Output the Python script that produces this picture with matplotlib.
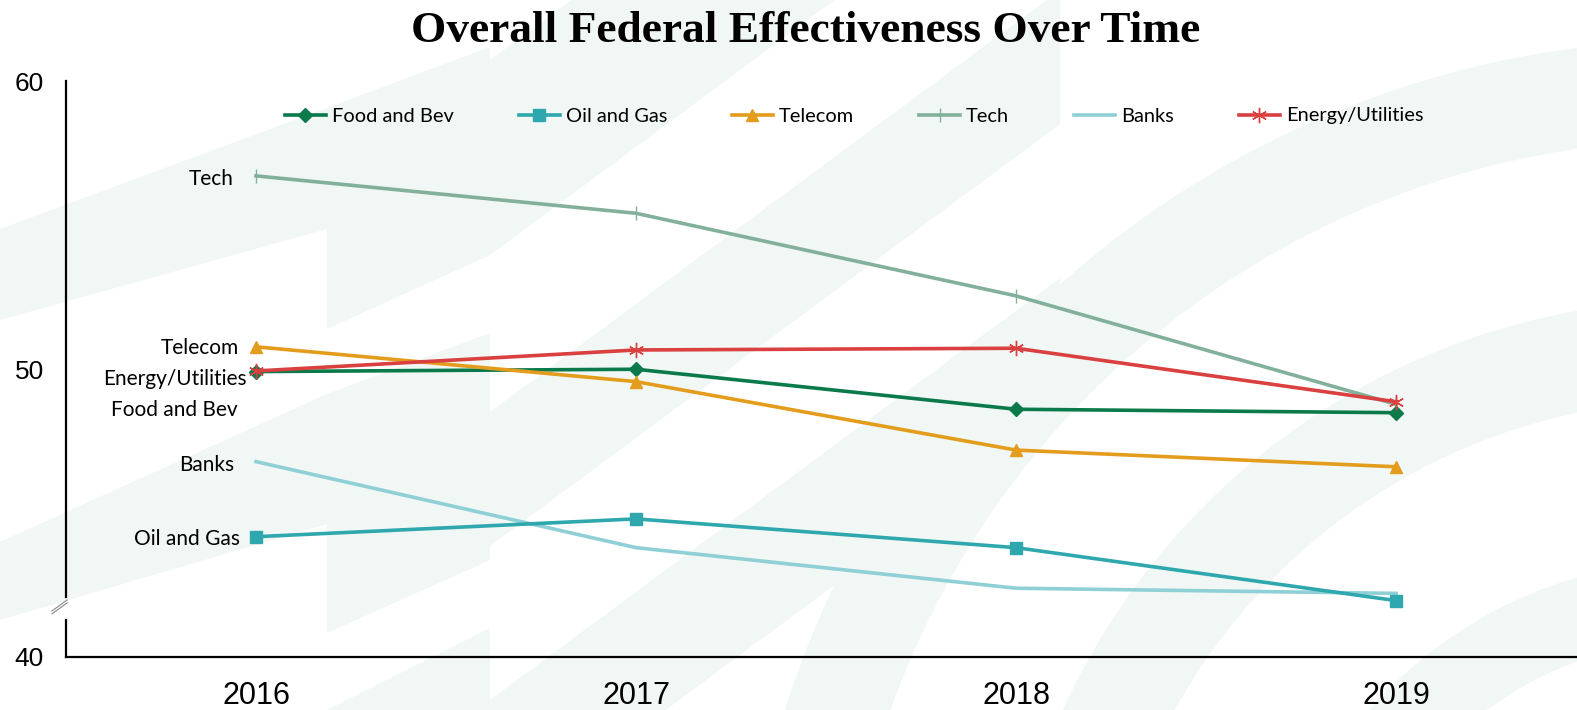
import numpy as np
import matplotlib.pyplot as plt
from matplotlib.patches import Polygon, Wedge

# data
years = ['2016', '2017', '2018', '2019']
food_bev = [49.92, 50.0, 48.61, 48.49]
oil_gas = [44.18, 44.80, 43.80, 41.96]
telecom = [50.78, 49.57, 47.19, 46.61]
tech = [56.72, 55.42, 52.55, 48.78]
banks = [46.79, 43.80, 42.39, 42.21]
energy = [49.94, 50.67, 50.73, 48.87]

W, H = 1577, 710
fig = plt.figure(figsize=(W / 100, H / 100), dpi=100)

# background watermark (light green chevrons / arcs), pixel coords
bg = fig.add_axes([0, 0, 1, 1], zorder=0)
bg.set_xlim(0, W)
bg.set_ylim(H, 0)
bg.axis('off')
light = '#f1f7f4'
polys = [
    [(0, 229), (327, 108), (327, 229), (0, 320)],
    [(327, 108), (490, 47), (490, 255), (327, 329)],
    [(0, 542), (327, 394), (327, 524), (0, 620)],
    [(327, 394), (490, 333), (490, 560), (327, 633)],
    [(327, 710), (490, 628), (490, 710)],
]


def band(c1, c2, x0=490, x1=1060, s=0.74):
    return [(x0, c1), (x1, c1 - s * (x1 - x0)), (x1, c2 - s * (x1 - x0)), (x0, c2)]


polys += [band(60, 255), band(412, 546), band(700, 840)]
for p in polys:
    bg.add_patch(Polygon(p, closed=True, color=light, lw=0))
for r0, r1 in [(860, 960), (600, 700), (360, 440), (140, 210)]:
    bg.add_patch(Wedge((1700, 1000), r1, 90, 270, width=r1 - r0, color=light, lw=0))

ax = fig.add_axes([66 / W, 1 - 657 / H, 1 - 66 / W, (657 - 81.5) / H], zorder=1)
ax.patch.set_alpha(0)
x = np.arange(len(years))

lw = 2.6
ax.plot(x, tech, color='#82b09a', lw=lw, marker='|', ms=10, mew=1, label='Tech', zorder=3)
ax.plot(x, food_bev, color='#0b7a4b', lw=lw, marker='D', ms=7, label='Food and Bev', zorder=4)
ax.plot(x, oil_gas, color='#2ea7ae', lw=lw, marker='s', ms=8, label='Oil and Gas', zorder=4)
ax.plot(x, telecom, color='#e39c1b', lw=lw, marker='^', ms=9, label='Telecom', zorder=4)
ax.plot(x, banks, color='#8fcfd6', lw=lw, label='Banks', zorder=3)
ax.plot(x, energy, color='#d9403f', lw=lw, marker=(6, 2, 0), ms=11, mew=1, label='Energy/Utilities', zorder=5)

ax.set_xlim(-0.5, 3.476)
ax.set_ylim(40, 60)
ax.set_xticks(x)
ax.set_xticklabels(years, fontsize=22, family='Liberation Sans')
ax.set_yticks([40, 50, 60])
ax.set_yticklabels(['40', '50', '60'], fontsize=19, family='Liberation Sans')
ax.tick_params(length=0)
ax.tick_params(axis='x', pad=17)
ax.tick_params(axis='y', pad=16)
for s in ['top', 'right', 'left']:
    ax.spines[s].set_visible(False)
ax.spines['bottom'].set_linewidth(1.6)

# broken y axis
ax.plot([-0.5, -0.5], [42.09, 60], color='black', lw=1.6, clip_on=False, zorder=6)
ax.plot([-0.5, -0.5], [40, 41.29], color='black', lw=1.6, clip_on=False, zorder=6)
for dy in [0.0, 0.1]:
    ax.plot([-0.537, -0.497], [41.50 + dy, 41.88 + dy], color='#888888', lw=0.8,
            clip_on=False, zorder=6)

# series labels at the first point
lab_font = dict(fontsize=15, family='Lato', ha='right', va='center')
labels = [('Tech', tech[0], -22, -3), ('Telecom', telecom[0], -17, -1),
          ('Energy/Utilities', energy[0], -9, -8), ('Food and Bev', food_bev[0], -18, -38),
          ('Banks', banks[0], -22, -3), ('Oil and Gas', oil_gas[0], -16, -2)]
for name, v, dx, dy in labels:
    ax.annotate(name, xy=(0, v), xytext=(dx, dy), textcoords='offset pixels', **lab_font)

handles, lbls = ax.get_legend_handles_labels()
order = ['Food and Bev', 'Oil and Gas', 'Telecom', 'Tech', 'Banks', 'Energy/Utilities']
hmap = dict(zip(lbls, handles))
fig.legend([hmap[o] for o in order], order, loc='center', bbox_to_anchor=(854 / W, 1 - 116 / H),
           ncol=6, frameon=False, prop={'family': 'Lato', 'size': 14.4},
           handlelength=2.05, handletextpad=0.3, columnspacing=3.25)

fig.text(806 / W, 1 - 31 / H, 'Overall Federal Effectiveness Over Time', ha='center', va='center',
         fontsize=32.7, fontweight='bold', family='Liberation Serif')

fig.savefig('out.png', dpi=100)
